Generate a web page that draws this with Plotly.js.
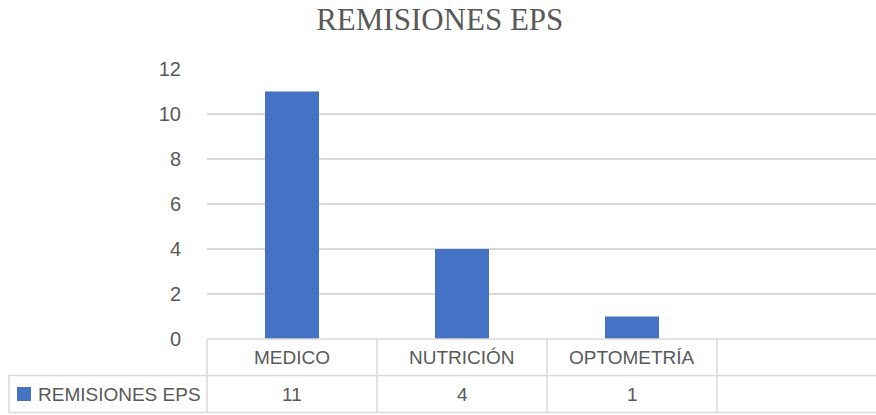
<!DOCTYPE html>
<html>
<head>
<meta charset="utf-8">
<script src="https://cdn.plot.ly/plotly-3.0.1.min.js"></script>
<style>html,body{margin:0;padding:0;background:#fff;overflow:hidden}#chart{width:876px;height:415px}</style>
</head>
<body>
<div id="chart"></div>
<script>
const categories = ["MEDICO", "NUTRICIÓN", "OPTOMETRÍA"];
const values = [11, 4, 1];
const seriesName = "REMISIONES EPS";
const chartTitle = "REMISIONES EPS";
const yTicks = [0, 2, 4, 6, 8, 10, 12];

const W = 876, H = 415;
const L = 207, T = 69, B = 339;          // plot area in pixels
const colW = 170;                          // pixels per category
const plotW = W - L;
const xMax = -0.5 + plotW / colW;
const plotH = B - T;
const FONT = "'Liberation Sans', Arial, sans-serif";
const TXT = "#595959";
const LINE = "#d9d9d9";
const BLUE = "#4472c4";

const px = p => (p - L) / plotW;           // pixel x -> paper x
const py = p => (B - p) / plotH;           // pixel y -> paper y

const rowTop = 339, rowMid = 375.5, rowBot = 412.5, legLeft = 9;
const nCols = categories.length + 1;       // extra empty column as in the reference table

const shapes = [];
const lineStyle = {color: LINE, width: 1.5};
// horizontal lines
shapes.push({type: 'line', xref: 'paper', yref: 'paper', x0: px(L), x1: px(W + 5), y0: py(rowTop), y1: py(rowTop), line: lineStyle});
shapes.push({type: 'line', xref: 'paper', yref: 'paper', x0: px(legLeft), x1: px(W + 5), y0: py(rowMid), y1: py(rowMid), line: lineStyle});
shapes.push({type: 'line', xref: 'paper', yref: 'paper', x0: px(legLeft), x1: px(W + 5), y0: py(rowBot), y1: py(rowBot), line: lineStyle});
// vertical lines
shapes.push({type: 'line', xref: 'paper', yref: 'paper', x0: px(legLeft), x1: px(legLeft), y0: py(rowMid), y1: py(rowBot), line: lineStyle});
for (let i = 0; i < nCols; i++) {
  const xp = L + i * colW;
  if (xp > W) break;
  shapes.push({type: 'line', xref: 'paper', yref: 'paper', x0: px(xp), x1: px(xp), y0: py(rowTop), y1: py(rowBot), line: lineStyle});
}
// legend key
shapes.push({type: 'rect', xref: 'paper', yref: 'paper', x0: px(17), x1: px(31), y0: py(387), y1: py(401), fillcolor: BLUE, line: {width: 0}});

const annotations = [];
categories.forEach((c, i) => {
  annotations.push({x: c, xref: 'x', y: py((rowTop + rowMid) / 2), yref: 'paper', text: c, showarrow: false,
    xanchor: 'center', yanchor: 'middle', font: {family: FONT, size: 19, color: TXT}});
  annotations.push({x: c, xref: 'x', y: py((rowMid + rowBot) / 2), yref: 'paper', text: String(values[i]), showarrow: false,
    xanchor: 'center', yanchor: 'middle', font: {family: FONT, size: 19, color: TXT}});
});
annotations.push({x: px(36), xref: 'paper', y: py((rowMid + rowBot) / 2), yref: 'paper', text: seriesName, showarrow: false,
  xanchor: 'left', yanchor: 'middle', font: {family: FONT, size: 19, color: TXT}});

const trace = {
  type: 'bar', x: categories, y: values, name: seriesName,
  marker: {color: BLUE}, width: 54 / colW, hoverinfo: 'x+y'
};

const layout = {
  width: W, height: H,
  margin: {l: L, r: 0, t: T, b: H - B, pad: 0},
  paper_bgcolor: '#fff', plot_bgcolor: '#fff',
  showlegend: false,
  title: {text: chartTitle, x: 0.502, xref: 'container', xanchor: 'center', y: 1 - 19.5 / H, yref: 'container', yanchor: 'middle',
    font: {family: "'Liberation Serif', 'Times New Roman', serif", size: 31, color: TXT}},
  xaxis: {type: 'category', range: [-0.5, xMax], showticklabels: false, showgrid: false, zeroline: false, showline: false, ticks: '', fixedrange: true},
  yaxis: {range: [0, 12], tickvals: yTicks, ticktext: yTicks.map(String), showgrid: true, gridcolor: LINE, gridwidth: 1.5,
    zeroline: false, showline: false, ticks: 'outside', ticklen: 21, tickcolor: 'rgba(0,0,0,0)',
    tickfont: {family: FONT, size: 20, color: TXT}, fixedrange: true},
  shapes: shapes, annotations: annotations
};

Plotly.newPlot('chart', [trace], layout, {displayModeBar: false, staticPlot: true});
</script>
</body>
</html>
